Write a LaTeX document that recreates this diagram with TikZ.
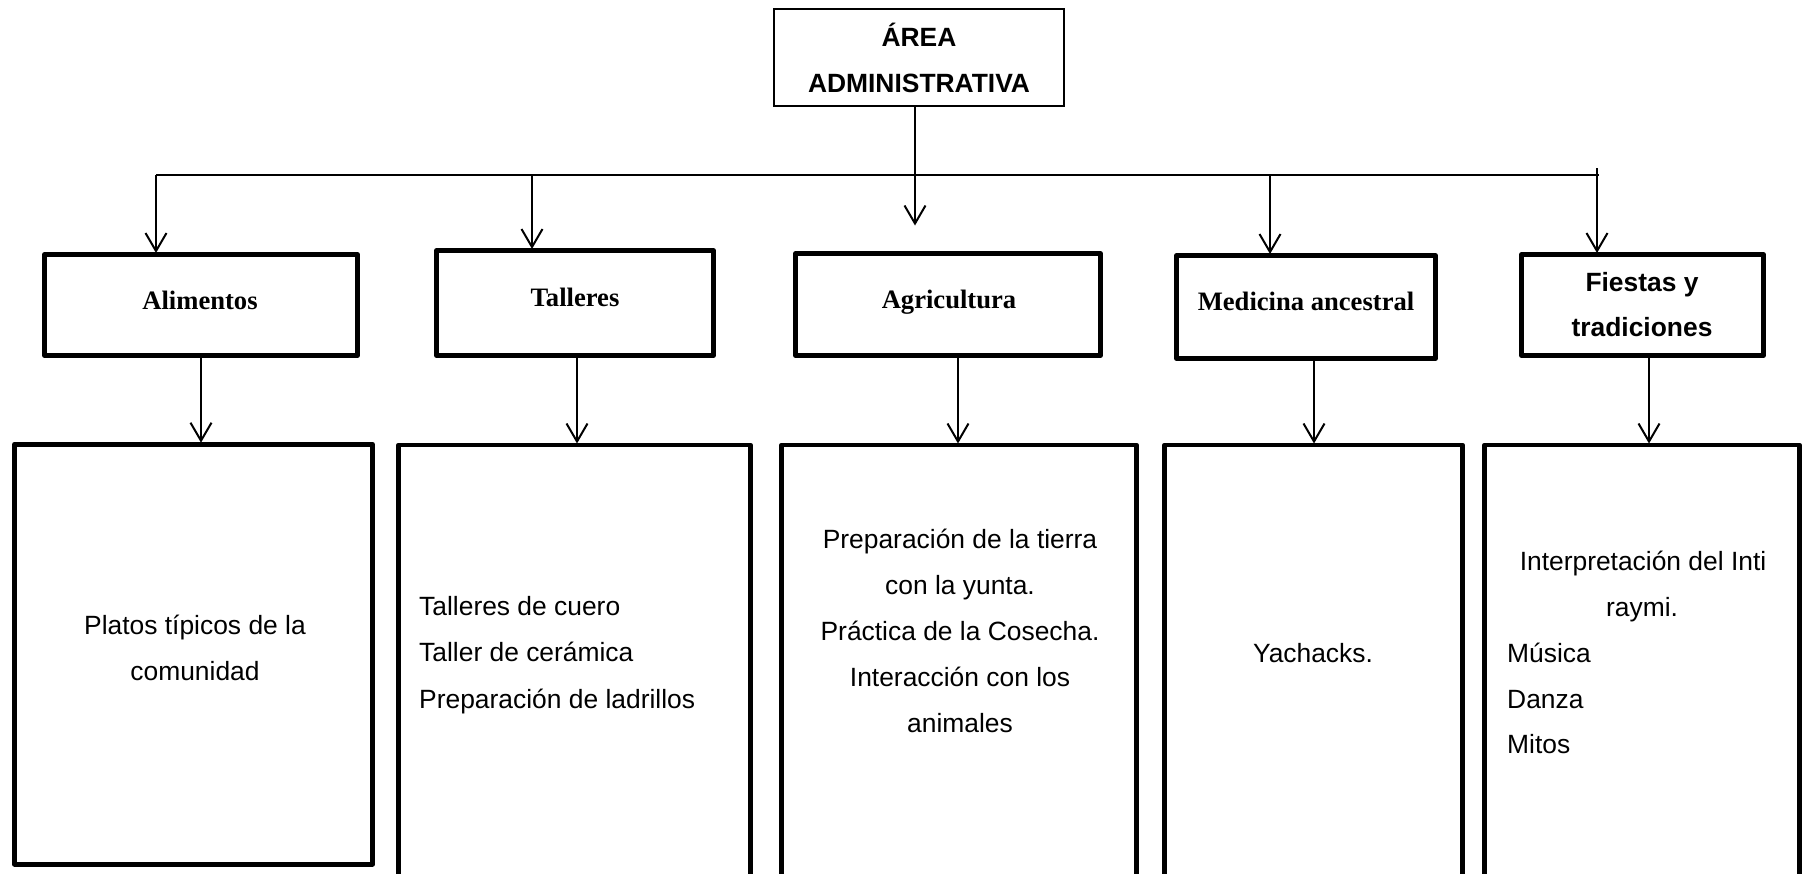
\documentclass[tikz,border=0pt]{standalone}
\usepackage{fontspec}
\setmainfont{Liberation Sans}
\newfontfamily\serifb{Liberation Serif}
\usetikzlibrary{arrows.meta}
\begin{document}
\begin{tikzpicture}[x=1pt,y=-1pt,
  topbox/.style={draw, line width=2pt, inner sep=0pt, outer sep=0pt},
  thickbox/.style={draw, line width=4.7pt, line join=round, inner sep=0pt, outer sep=0pt},
  conn/.style={line width=2pt, shorten >=1.5pt, -{Straight Barb[length=18pt,width=21pt]}},
  plainline/.style={line width=2pt},
  lbl/.style={anchor=base, inner sep=0pt, font=\fontsize{26.4}{30}\selectfont},
  lbll/.style={anchor=base west, inner sep=0pt, font=\fontsize{26.4}{30}\selectfont},
  hdr/.style={anchor=base, inner sep=0pt, font=\fontsize{26.4}{30}\selectfont\bfseries},
  midlbl/.style={anchor=base, inner sep=0pt, font=\fontsize{26.6}{30}\selectfont\serifb\bfseries},
]
\useasboundingbox (0,0) rectangle (1811,873);
\clip (0,0) rectangle (1811,873);

% top box
\node[topbox, minimum width=290pt, minimum height=97pt] (top) at (919,57.5) {};
\node[hdr] (toptxt1) at (919,46) {ÁREA};
\node[hdr] (toptxt2) at (919,92.5) {ADMINISTRATIVA};

% middle boxes
\node[thickbox, minimum width=313pt, minimum height=101pt] (b1) at (201,305) {};
\node[thickbox, minimum width=277pt, minimum height=105pt] (b2) at (575,303) {};
\node[thickbox, minimum width=305pt, minimum height=102pt] (b3) at (948,304.5) {};
\node[thickbox, minimum width=259pt, minimum height=103pt] (b4) at (1306,307) {};
\node[thickbox, minimum width=242pt, minimum height=101pt] (b5) at (1642.5,305) {};

\node[midlbl] (l1) at (200,309) {Alimentos};
\node[midlbl] (l2) at (575,306) {Talleres};
\node[midlbl] (l3) at (949,308) {Agricultura};
\node[midlbl] (l4) at (1306,310) {Medicina ancestral};
\node[hdr] (l5a) at (1642,291.5) {Fiestas y};
\node[hdr] (l5b) at (1642,336.5) {tradiciones};

% bottom boxes
\node[thickbox, minimum width=358pt, minimum height=420pt] (c1) at (193.5,654.2) {};
\node[thickbox, minimum width=352pt, minimum height=463pt] (c2) at (574.5,676.5) {};
\node[thickbox, minimum width=355pt, minimum height=463pt] (c3) at (959,676.5) {};
\node[thickbox, minimum width=298pt, minimum height=463pt] (c4) at (1313.5,676.5) {};
\node[thickbox, minimum width=315pt, minimum height=463pt] (c5) at (1642,676.5) {};

% bottom texts
\node[lbl] (t1a) at (195,634) {Platos típicos de la};
\node[lbl] (t1b) at (195,680) {comunidad};

\node[lbll] (t2a) at (419,615) {Talleres de cuero};
\node[lbll] (t2b) at (419,661.5) {Taller de cerámica};
\node[lbll] (t2c) at (419,708) {Preparación de ladrillos};

\node[lbl] (t3a) at (960,548) {Preparación de la tierra};
\node[lbl] (t3b) at (960,594) {con la yunta.};
\node[lbl] (t3c) at (960,640) {Práctica de la Cosecha.};
\node[lbl] (t3d) at (960,686) {Interacción con los};
\node[lbl] (t3e) at (960,732) {animales};

\node[lbl] (t4a) at (1313,662) {Yachacks.};

\node[lbl] (t5a) at (1643,570) {Interpretación del Inti};
\node[lbl] (t5b) at (1642,616) {raymi.};
\node[lbll] (t5c) at (1507,662) {Música};
\node[lbll] (t5d) at (1507,708) {Danza};
\node[lbll] (t5e) at (1507,753) {Mitos};

% connectors
\coordinate (hl) at (156,175);
\coordinate (hr) at (1599,175);
\draw[plainline] (hl) -- (hr);
\coordinate (tdrop) at (915,227);
\draw[conn] (top.south -| tdrop) -- (tdrop);

\coordinate (d1) at (156,175);
\coordinate (d2) at (532,175);
\coordinate (d4) at (1270,175);
\coordinate (d5) at (1597,168);
\draw[conn] (d1) -- (d1 |- b1.north);
\draw[conn] (d2) -- (d2 |- b2.north);
\draw[conn] (d4) -- (d4 |- b4.north);
\draw[conn] (d5) -- (d5 |- b5.north);

\coordinate (e1) at (201,0);
\coordinate (e2) at (577,0);
\coordinate (e3) at (958,0);
\coordinate (e4) at (1314,0);
\coordinate (e5) at (1649,0);
\draw[conn] (e1 |- b1.south) -- (e1 |- c1.north);
\draw[conn] (e2 |- b2.south) -- (e2 |- c2.north);
\draw[conn] (e3 |- b3.south) -- (e3 |- c3.north);
\draw[conn] (e4 |- b4.south) -- (e4 |- c4.north);
\draw[conn] (e5 |- b5.south) -- (e5 |- c5.north);
\end{tikzpicture}
\end{document}
